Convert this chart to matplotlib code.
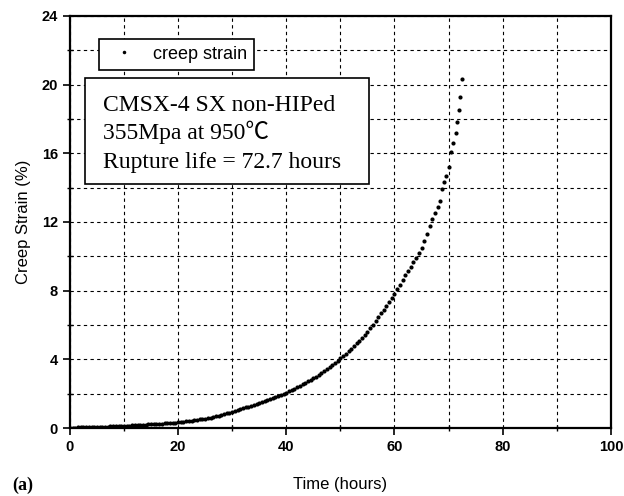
import numpy as np
import matplotlib.pyplot as plt
from matplotlib.patches import Rectangle
from matplotlib.ticker import MultipleLocator

# creep curve (time in hours, strain in %)
time_h = [
    0.0, 0.5, 1.0, 1.5, 2.0, 2.5, 3.0, 3.5, 4.0, 4.5,
    5.0, 5.5, 6.0, 6.5, 7.0, 7.5, 8.0, 8.5, 9.0, 9.5,
    10.0, 10.5, 11.0, 11.5, 12.0, 12.5, 13.0, 13.5, 14.0, 14.5,
    15.0, 15.5, 16.0, 16.5, 17.0, 17.5, 18.0, 18.5, 19.0, 19.5,
    20.0, 20.5, 21.0, 21.5, 22.0, 22.5, 23.0, 23.5, 24.0, 24.5,
    25.0, 25.5, 26.0, 26.5, 27.0, 27.5, 28.0, 28.5, 29.0, 29.5,
    30.0, 30.5, 31.0, 31.5, 32.0, 32.5, 33.0, 33.5, 34.0, 34.5,
    35.0, 35.5, 36.0, 36.5, 37.0, 37.5, 38.0, 38.5, 39.0, 39.5,
    40.0, 40.5, 41.0, 41.5, 42.0, 42.5, 43.0, 43.5, 44.0, 44.5,
    45.0, 45.5, 46.0, 46.5, 47.0, 47.5, 48.0, 48.5, 49.0, 49.5,
    50.0, 50.5, 51.0, 51.5, 52.0, 52.5, 53.0, 53.5, 54.0, 54.5,
    55.0, 55.5, 56.0, 56.5, 57.0, 57.5, 58.0, 58.5, 59.0, 59.5,
    60.0, 60.5, 61.0, 61.5, 62.0, 62.5, 63.0, 63.5, 64.0, 64.5,
    65.0, 65.5, 66.0, 66.5, 67.0, 67.5,
    68.0, 68.4, 68.8, 69.2, 69.6, 70.0, 70.4, 70.9, 71.3, 71.6,
    71.9, 72.2, 72.4,
]
strain = [
    0.02, 0.03, 0.03, 0.04, 0.04, 0.05, 0.05, 0.06, 0.06, 0.07,
    0.07, 0.08, 0.08, 0.09, 0.09, 0.10, 0.10, 0.11, 0.11, 0.12,
    0.12, 0.13, 0.14, 0.15, 0.16, 0.17, 0.18, 0.19, 0.20, 0.21,
    0.22, 0.23, 0.24, 0.25, 0.26, 0.27, 0.28, 0.29, 0.30, 0.32,
    0.33, 0.35, 0.37, 0.39, 0.41, 0.43, 0.45, 0.48, 0.50, 0.53,
    0.55, 0.58, 0.61, 0.64, 0.68, 0.72, 0.76, 0.80, 0.85, 0.90,
    0.95, 1.00, 1.05, 1.10, 1.15, 1.20, 1.25, 1.30, 1.35, 1.40,
    1.46, 1.52, 1.58, 1.64, 1.70, 1.76, 1.82, 1.88, 1.94, 2.00,
    2.05, 2.13, 2.21, 2.29, 2.37, 2.45, 2.54, 2.63, 2.72, 2.81,
    2.90, 3.00, 3.10, 3.21, 3.32, 3.44, 3.56, 3.68, 3.80, 3.92,
    4.05, 4.19, 4.33, 4.47, 4.62, 4.77, 4.93, 5.09, 5.25, 5.42,
    5.60, 5.80, 6.02, 6.24, 6.46, 6.68, 6.90, 7.13, 7.36, 7.58,
    7.80, 8.07, 8.34, 8.62, 8.90, 9.15, 9.40, 9.65, 9.90, 10.20,
    10.50, 10.90, 11.30, 11.75, 12.20, 12.55,
    12.90, 13.20, 13.90, 14.30, 14.70, 15.20, 16.10, 16.60, 17.20, 17.80,
    18.50, 19.30, 20.30,
]

info_lines = ["CMSX-4 SX non-HIPed", "355Mpa at 950\u2103", "Rupture life = 72.7 hours"]

plt.rcParams['font.family'] = ['Liberation Sans', 'DejaVu Sans']

fig = plt.figure(figsize=(6.24, 4.96), dpi=100)
ax = fig.add_axes([0.112, 0.137, 0.867, 0.831])

ax.plot(time_h, strain, 'o', color='black', markersize=3.0, markeredgewidth=0,
        label='creep strain')

ax.set_xlim(0, 100)
ax.set_ylim(0, 24)
ax.xaxis.set_major_locator(MultipleLocator(20))
ax.xaxis.set_minor_locator(MultipleLocator(10))
ax.yaxis.set_major_locator(MultipleLocator(4))
ax.yaxis.set_minor_locator(MultipleLocator(2))
ax.grid(which='both', color='black', linestyle=(0, (3, 3)), linewidth=0.8)
ax.set_axisbelow(True)

ax.tick_params(which='major', direction='out', length=5, width=1.2,
               labelsize=10.5)
ax.tick_params(which='minor', direction='inout', length=5, width=1.0)
for lbl in ax.get_xticklabels() + ax.get_yticklabels():
    lbl.set_fontweight('bold')
for sp in ax.spines.values():
    sp.set_linewidth(1.6)

ax.set_xlabel('Time (hours)', fontsize=12, labelpad=17)
ax.set_ylabel('Creep Strain (%)', fontsize=12, labelpad=8)

leg = ax.legend(loc='upper left', bbox_to_anchor=(0.053, 0.945), fontsize=13,
                frameon=True, fancybox=False, edgecolor='black',
                markerscale=0.85, handletextpad=0.6, borderpad=0.4,
                borderaxespad=0)
leg.get_frame().set_linewidth(1.2)
leg.get_frame().set_alpha(1)

# info box
ax.add_patch(Rectangle((0.028, 0.592), 0.525, 0.258, transform=ax.transAxes,
                       facecolor='white', edgecolor='black', linewidth=1.2,
                       zorder=4))
for line, yb in zip(info_lines, [0.769, 0.701, 0.632]):
    ax.text(0.061, yb, line, transform=ax.transAxes, fontsize=17,
            family=['Liberation Serif', 'Noto Sans CJK SC', 'DejaVu Serif'],
            va='baseline', ha='left', zorder=5)

fig.text(0.02, 0.012, '(a)', fontsize=13, fontweight='bold',
         family=['Liberation Serif', 'DejaVu Serif'])

fig.savefig('out.png', dpi=100)
